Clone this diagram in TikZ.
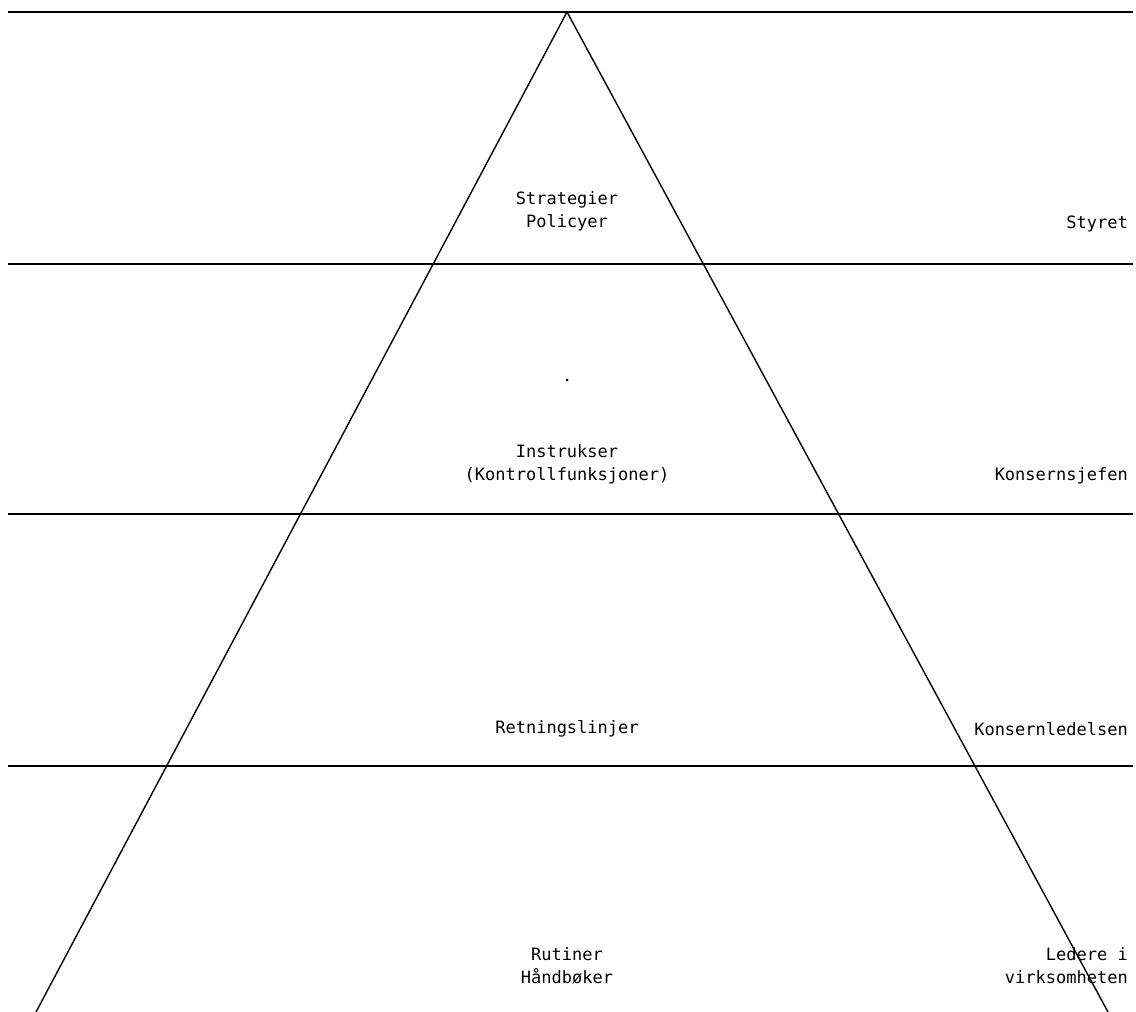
\documentclass[tikz,border=0pt]{standalone}
\usepackage{fontspec}
\setmonofont{DejaVu Sans Mono}
\begin{document}
\begin{tikzpicture}[x=1pt,y=-1pt,
  rule/.style={line width=1.5pt,black},
  side/.style={line width=1.4pt,black},
  lbl/.style={font=\ttfamily\fontsize{17}{23}\selectfont,inner sep=0pt,align=center},
  rlbl/.style={font=\ttfamily\fontsize{17}{23}\selectfont,inner sep=0pt,align=right,anchor=east}]
\useasboundingbox (0,0) rectangle (1136,1012);
% horizontal rules
\coordinate (h0l) at (8,12);   \coordinate (h0r) at (1133,12);
\coordinate (h1l) at (8,264);  \coordinate (h1r) at (1133,264);
\coordinate (h2l) at (8,514);  \coordinate (h2r) at (1133,514);
\coordinate (h3l) at (8,766);  \coordinate (h3r) at (1133,766);
\draw[rule] (h0l) -- (h0r);
\draw[rule] (h1l) -- (h1r);
\draw[rule] (h2l) -- (h2r);
\draw[rule] (h3l) -- (h3r);
% pyramid sides
\coordinate (apex) at (567,12);
\coordinate (bl) at (36,1012);
\coordinate (br) at (1108,1012);
\draw[side] (bl) -- (apex) -- (br);
% dot
\fill (567,380) circle (1.5pt);
% centre labels
\node[lbl] (strat) at (567,211) {Strategier\\Policyer};
\node[lbl] (instr) at (567,464) {Instrukser\\(Kontrollfunksjoner)};
\node[lbl] (retn) at (567,729) {Retningslinjer};
\node[lbl] (rut) at (567,966) {Rutiner\\Håndbøker};
% right labels
\node[rlbl] (styret) at (1128,224) {Styret};
\node[rlbl] (ksj) at (1128,476) {Konsernsjefen};
\node[rlbl] (kled) at (1128,729) {Konsernledelsen};
\node[rlbl] (led) at (1128,966) {Ledere i\\virksomheten};
\end{tikzpicture}
\end{document}
